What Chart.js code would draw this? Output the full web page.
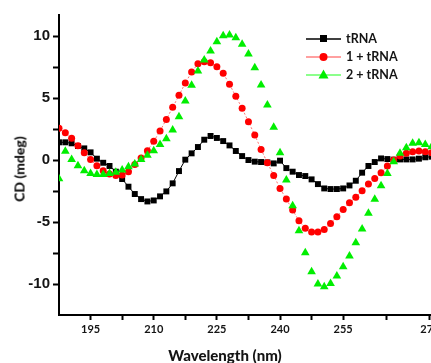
<!DOCTYPE html>
<html>
<head>
<meta charset="utf-8">
<script src="https://cdn.jsdelivr.net/npm/chart.js@4.4.1/dist/chart.umd.min.js"></script>
<style>
  html, body { margin:0; padding:0; overflow:hidden; background:#fff; }
  #wrap { position:relative; width:431px; height:363px; overflow:hidden; background:#fff; }
  #c { position:absolute; left:0; top:0; }
  .title { position:absolute; font-family:Lato, "Open Sans", sans-serif; font-weight:900; color:#141414; white-space:nowrap; }
  #ytitle { left:19px; top:169px; font-size:14px; transform:translate(-50%,-50%) rotate(-90deg); }
  #xtitle { left:225px; top:355px; font-size:15px; line-height:15px; transform:translate(-50%,-50%); }
  #legend { position:absolute; left:306px; top:30px; font-family:Lato, "Open Sans", sans-serif; font-weight:bold; font-size:12.5px; color:#141414; }
  .row { position:relative; height:18px; line-height:18px; white-space:nowrap; }
  .row svg { position:absolute; left:0; top:0; }
  .row span { position:absolute; left:40px; top:0; }
</style>
</head>
<body>
<div id="wrap">
  <canvas id="c" width="450" height="363" style="width:450px;height:363px"></canvas>
  <div id="ytitle" class="title">CD (mdeg)</div>
  <div id="xtitle" class="title">Wavelength (nm)</div>
  <div id="legend"></div>
</div>
<script>
// Wavelength (nm) of each measured point
const wavelengths = [187.5, 189, 190.5, 192, 193.5, 195, 196.5, 198, 199.5, 201,
  202.5, 204, 205.5, 207, 208.5, 210, 211.5, 213, 214.5, 216,
  217.5, 219, 220.5, 222, 223.5, 225, 226.5, 228, 229.5, 231,
  232.5, 234, 235.5, 237, 238.5, 240, 241.5, 243, 244.5, 246,
  247.5, 249, 250.5, 252, 253.5, 255, 256.5, 258, 259.5, 261,
  262.5, 264, 265.5, 267, 268.5, 270, 271.5, 273, 274.5, 276];

// CD (mdeg) series
const tRNA = [1.43, 1.43, 1.35, 1.13, 0.94, 0.62, 0.11, -0.22, -0.48, -0.94,
  -1.53, -2.15, -2.74, -3.15, -3.34, -3.26, -2.93, -2.53, -1.88, -0.89,
  0.03, 0.54, 1.05, 1.64, 1.94, 1.78, 1.53, 1.18, 0.73, 0.32,
  0.0, -0.13, -0.16, -0.19, -0.27, -0.05, -0.65, -0.94, -1.21, -1.29,
  -1.56, -1.94, -2.29, -2.34, -2.34, -2.29, -2.05, -1.67, -1.02, -0.48,
  -0.16, 0.13, 0.08, 0.03, 0.05, 0.05, 0.05, 0.11, 0.22, 0.27];

const one_tRNA = [2.56, 2.21, 1.75, 1.16, 0.59, 0.05, -0.46, -0.86, -1.13, -1.24,
  -1.21, -0.94, -0.35, 0.16, 0.75, 1.51, 2.34, 3.28, 4.25, 5.22,
  6.21, 7.10, 7.77, 7.93, 7.85, 7.53, 7.00, 6.11, 5.14, 4.17,
  3.09, 2.02, 0.86, -0.22, -1.24, -2.29, -3.15, -4.04, -4.90, -5.51,
  -5.81, -5.81, -5.60, -5.11, -4.57, -3.98, -3.44, -3.01, -2.48, -1.94,
  -1.48, -1.02, -0.48, 0.0, 0.32, 0.54, 0.67, 0.73, 0.67, 0.59];

const two_tRNA = [-1.5, 0.7, 0.05, -0.46, -0.86, -1.08, -1.16, -1.16, -1.08, -0.99,
  -0.81, -0.54, -0.32, 0.05, 0.38, 0.75, 1.26, 1.72, 2.42, 3.50,
  4.76, 6.03, 7.18, 8.07, 8.80, 9.55, 10.03, 10.09, 9.87, 9.34,
  8.56, 7.45, 6.05, 4.44, 2.64, 0.59, -1.61, -3.69, -5.70, -7.48,
  -9.01, -10.0, -10.22, -9.95, -9.36, -8.61, -7.75, -6.67, -5.57, -4.30,
  -3.17, -2.07, -1.08, -0.13, 0.54, 0.99, 1.35, 1.40, 1.26, 1.08];

const seriesNames = ['tRNA', '1 + tRNA', '2 + tRNA'];

// Axis ticks as printed on the reference
const xTickValues = [195, 202.5, 210, 217.5, 225, 232.5, 240, 247.5, 255, 265.4, 275.6];
const xTickLabels = ['195', '', '210', '', '225', '', '240', '', '255', '', '270'];
const yTickValues = [-10, -7.5, -5, -2.5, 0, 2.5, 5, 7.5, 10];
const yTickLabels = ['-10', '', '-5', '', '0', '', '5', '', '10'];

const pts = arr => wavelengths.map((x, i) => ({ x: x, y: arr[i] }));

const tickFontY = { family: '"Liberation Sans", Arial, sans-serif', size: 15, weight: 'bold' };
const tickFontX = { family: 'Lato, "Open Sans", sans-serif', size: 11, weight: 'bold' };

new Chart(document.getElementById('c').getContext('2d'), {
  type: 'line',
  data: {
    datasets: [
      { label: seriesNames[0], data: pts(tRNA), order: 3,
        borderColor: '#000', borderWidth: 1, pointStyle: 'rect', pointRadius: 4.2,
        pointBackgroundColor: '#000', pointBorderColor: '#000', pointBorderWidth: 0, tension: 0 },
      { label: seriesNames[1], data: pts(one_tRNA), order: 2,
        borderColor: 'rgba(255,70,70,0.75)', borderWidth: 1, borderDash: [2, 2], pointStyle: 'circle', pointRadius: 3.5,
        pointBackgroundColor: '#ff0000', pointBorderColor: '#ff0000', pointBorderWidth: 0, tension: 0 },
      { label: seriesNames[2], data: pts(two_tRNA), order: 1, showLine: false,
        borderColor: '#00ee00', borderWidth: 0, pointStyle: 'triangle', pointRadius: 5,
        pointBackgroundColor: '#00ee00', pointBorderColor: '#00ee00', pointBorderWidth: 0 }
    ]
  },
  options: {
    responsive: false, animation: false, devicePixelRatio: 1,
    layout: { padding: { left: 0, right: 10, top: 15, bottom: 0 } },
    plugins: { legend: { display: false }, tooltip: { enabled: false } },
    scales: {
      x: {
        type: 'linear', min: 187.5, max: 278,
        afterBuildTicks: s => { s.ticks = xTickValues.map(v => ({ value: v })); },
        afterFit: s => { s.height = 48; },
        ticks: { autoSkip: false, maxRotation: 0, padding: 3, color: '#141414', font: tickFontX,
                 callback: (v, i) => xTickLabels[i] },
        grid: { drawOnChartArea: false, drawTicks: true, tickLength: 5, tickWidth: 2, tickColor: '#000' },
        border: { display: true, color: '#000', width: 2 }
      },
      y: {
        type: 'linear', min: -12.5, max: 11.7,
        afterBuildTicks: s => { s.ticks = yTickValues.map(v => ({ value: v })); },
        afterFit: s => { s.width = 59; },
        ticks: { autoSkip: false, padding: 3, color: '#141414', font: tickFontY,
                 callback: (v, i) => yTickLabels[i] },
        grid: { drawOnChartArea: false, drawTicks: true, tickLength: 6, tickWidth: 2, tickColor: '#000' },
        border: { display: true, color: '#000', width: 2 }
      }
    }
  }
});

// Legend (inside the plot, top right)
const legendStyles = [
  { line: '#000', marker: '<rect x="14" y="5" width="7" height="7" fill="#000"/>' },
  { line: '#ff8080', marker: '<circle cx="17.5" cy="9" r="4" fill="#ff0000"/>' },
  { line: '#66ff66', marker: '<polygon points="17.5,3.5 22.5,12.5 12.5,12.5" fill="#00ee00"/>' }
];
const legend = document.getElementById('legend');
seriesNames.forEach((name, i) => {
  const row = document.createElement('div');
  row.className = 'row';
  row.innerHTML = '<svg width="36" height="18"><line x1="0" y1="9" x2="35" y2="9" stroke="' +
    legendStyles[i].line + '" stroke-width="1.3"/>' + legendStyles[i].marker + '</svg><span>' + name + '</span>';
  legend.appendChild(row);
});
</script>
</body>
</html>
